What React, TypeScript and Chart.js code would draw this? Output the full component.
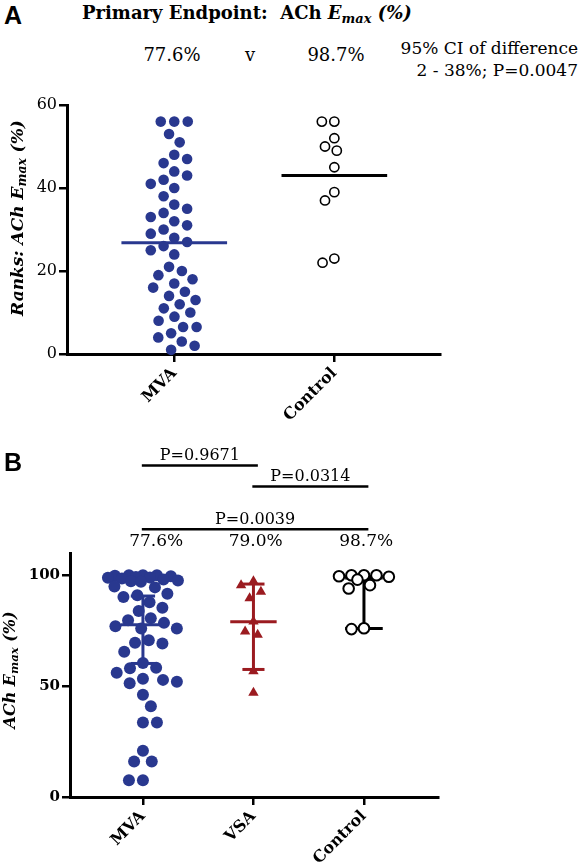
import React, { useEffect, useRef } from 'react';
import { Chart, registerables } from 'chart.js';

Chart.register(...registerables);

// ---------- Panel A data (ranks) ----------
const groupsA = ['MVA', 'Control'];
const mvaRanks = [56, 56, 56, 53, 51, 48, 47, 46, 44, 43, 42, 41, 40, 38, 36, 35, 34, 33, 32, 31, 30, 29, 28, 27, 26, 25, 24, 21, 20, 19, 18, 17, 16, 15, 14, 13, 12, 11, 10, 9, 8, 6.5, 6.5, 5, 4, 3, 2, 1];
const controlRanks = [56, 56, 52, 50, 49, 45, 39, 37, 23, 22];
const medianRanks = [26.8, 43];
const yTicksA = [0, 20, 40, 60];
const headerA = ['77.6%', 'v', '98.7%'];

// ---------- Panel B data (ACh Emax %) ----------
const groupsB = ['MVA', 'VSA', 'Control'];
const mvaEmax = [100, 100, 100, 99.8, 99.5, 99.2, 99, 98.8, 98.5, 98, 97.6, 97.3, 97, 94.9, 94.5, 91.6, 90.9, 90.2, 87.8, 85.3, 83.8, 80.6, 79.7, 78.5, 77, 76, 76, 70.7, 69.5, 69.2, 65.5, 60.4, 58.3, 58, 56, 53.3, 52.8, 52, 51.3, 46.1, 40.9, 33.6, 33.6, 20.9, 16, 16, 7.5, 7.5];
const vsaEmax = [97.3, 95.5, 92.5, 89.6, 79.1, 74.6, 73.1, 56.7, 47];
const controlEmax = [100, 100, 100, 99.5, 99.3, 98, 95.5, 94, 76.1, 75.7];
const medianEmax = [77.6, 79.0, 98.7];
const q1Emax = [60.2, 57.5, 76];
const q3Emax = [90.6, 96, 99.4];
const pctLabelsB = ['77.6%', '79.0%', '98.7%'];
const comparisons: [number, number, string][] = [
  [0, 1, 'P=0.9671'],
  [1, 2, 'P=0.0314'],
  [0, 2, 'P=0.0039'],
];
const yTicksB = [0, 50, 100];

// ---------- styles ----------
const BLUE = '#29388f';
const RED = '#9b1b20';
const BLACK = '#000000';
const SERIF = '"DejaVu Serif", "Liberation Serif", serif';
const SANS = '"Liberation Sans", Arial, sans-serif';

function seg(x1: number, y1: number, x2: number, y2: number) {
  return [{ x: x1, y: y1 }, { x: x2, y: y2 }];
}

function lineDs(data: any[], color: string, width = 3) {
  return {
    type: 'line' as const,
    data,
    borderColor: color,
    borderWidth: width,
    pointRadius: 0,
    fill: false,
    tension: 0,
    order: 2,
    clip: false as any,
  };
}

// continuous beeswarm computed in pixel space via the chart's own scales
function swarm(values: number[], center: number, chart: any, D: number, maxHalf: number) {
  const xs = chart.scales.x;
  const ys = chart.scales.y;
  const ppu = xs.getPixelForValue(1) - xs.getPixelForValue(0);
  const idx = values.map((_, i) => i).sort((a, b) => values[b] - values[a]);
  const placed: { x: number; y: number }[] = [];
  const out: any[] = new Array(values.length);
  let flip = 1;
  idx.forEach((i) => {
    const y = ys.getPixelForValue(values[i]);
    const blocked: [number, number][] = [];
    placed.forEach((p) => {
      const dy = Math.abs(p.y - y);
      if (dy < D) {
        const w = Math.sqrt(D * D - dy * dy);
        blocked.push([p.x - w, p.x + w]);
      }
    });
    const cands = [0];
    blocked.forEach(([a, b]) => cands.push(a, b));
    const ok = cands.filter(
      (c) => Math.abs(c) <= maxHalf + 1e-6 && blocked.every(([a, b]) => c <= a + 1e-6 || c >= b - 1e-6)
    );
    ok.sort((a, b) => Math.abs(a) - Math.abs(b) || (flip > 0 ? b - a : a - b));
    let x = 0;
    if (ok.length) {
      x = ok[0];
    } else {
      let bestD = -1;
      for (let c = -maxHalf; c <= maxHalf + 1e-6; c += 0.5) {
        let m = Infinity;
        placed.forEach((p) => {
          m = Math.min(m, Math.hypot(p.x - c, p.y - y));
        });
        if (m > bestD + 1e-6) {
          bestD = m;
          x = c;
        }
      }
    }
    placed.push({ x, y });
    out[i] = { x: center + x / ppu, y: values[i] };
    flip = -flip;
  });
  return out;
}

function axis(min: number, max: number, ticks: number[], labels: (v: number) => string, font: any, fit: (s: any) => void, horizontal: boolean) {
  return {
    type: 'linear' as const,
    min,
    max,
    afterBuildTicks: (s: any) => {
      s.ticks = ticks.map((v) => ({ value: v }));
    },
    afterFit: fit,
    ticks: {
      callback: (v: any) => labels(Number(v)),
      font,
      color: BLACK,
      padding: 2,
      autoSkip: false,
      ...(horizontal ? { minRotation: 45, maxRotation: 45 } : {}),
    },
    grid: { drawOnChartArea: false, drawTicks: true, tickLength: 8, color: BLACK, lineWidth: 2.5 },
    border: { display: true, color: BLACK, width: 3 },
  };
}

const annotB = {
  id: 'annotB',
  afterDraw(chart: any) {
    const { ctx } = chart;
    const x = chart.scales.x;
    const y = chart.scales.y;
    ctx.save();
    ctx.fillStyle = BLACK;
    ctx.strokeStyle = BLACK;
    ctx.textAlign = 'center';
    ctx.textBaseline = 'middle';
    ctx.font = `17px ${SERIF}`;
    const labelShift = [0.12, 0.02, 0.02];
    pctLabelsB.forEach((t, i) => {
      ctx.fillText(t, x.getPixelForValue(i + 1 + labelShift[i]), y.getPixelForValue(115.3));
    });
    const levels = [149.5, 140, 120.7];
    ctx.font = `16px ${SERIF}`;
    ctx.textBaseline = 'alphabetic';
    ctx.lineWidth = 2.5;
    comparisons.forEach(([a, b, t], k) => {
      const x1 = x.getPixelForValue(a + 1 - 0.01);
      const x2 = x.getPixelForValue(b + 1 + 0.04);
      const yy = y.getPixelForValue(levels[k]);
      ctx.beginPath();
      ctx.moveTo(x1, yy);
      ctx.lineTo(x2, yy);
      ctx.stroke();
      ctx.fillText(t, (x1 + x2) / 2, yy - 5.5);
    });
    ctx.restore();
  },
};

export default function App() {
  const refA = useRef<HTMLCanvasElement>(null);
  const refB = useRef<HTMLCanvasElement>(null);

  useEffect(() => {
    if (!refA.current || !refB.current) return;

    const chartA: any = new Chart(refA.current, {
      type: 'scatter',
      data: {
        datasets: [
          lineDs(seg(1 - 0.33, medianRanks[0], 1 + 0.33, medianRanks[0]), BLUE),
          lineDs(seg(2 - 0.33, medianRanks[1], 2 + 0.33, medianRanks[1]), BLACK),
          { data: mvaRanks.map((v) => ({ x: 1, y: v })), backgroundColor: BLUE, borderWidth: 0, pointRadius: 5.3, order: 1, clip: false as any },
          { data: controlRanks.map((v) => ({ x: 2, y: v })), backgroundColor: '#ffffff', borderColor: BLACK, borderWidth: 1.6, pointRadius: 4.6, order: 1, clip: false as any },
        ] as any,
      },
      options: {
        animation: false,
        responsive: false,
        events: [],
        layout: { padding: { left: 0, top: 15, right: 20, bottom: 0 } },
        plugins: { legend: { display: false }, tooltip: { enabled: false } },
        scales: {
          x: axis(0.33, 2.66, [1, 2], (v) => groupsA[v - 1] ?? '', { family: SERIF, size: 16, weight: 'bold' }, (s) => { s.height = 76; }, true) as any,
          y: axis(0, 60, yTicksA, (v) => String(v), { family: SERIF, size: 16 }, (s) => { s.width = 67; }, false) as any,
        },
      },
    });
    chartA.data.datasets[2].data = swarm(mvaRanks, 1, chartA, 13.5, 30);
    chartA.data.datasets[3].data = swarm(controlRanks, 2, chartA, 12.5, 16);
    chartA.update();

    const colorsB = [BLUE, RED, BLACK];
    const capHalf = [0.11, 0.1, 0.17];
    const medHalf = [0.2, 0.21, 0.17];
    const lineSets: any[] = [];
    medianEmax.forEach((m, i) => {
      const g = i + 1;
      lineSets.push(lineDs(seg(g - medHalf[i], m, g + medHalf[i], m), colorsB[i]));
      lineSets.push(lineDs(seg(g, q1Emax[i], g, q3Emax[i]), colorsB[i]));
      lineSets.push(lineDs(seg(g - capHalf[i], q1Emax[i], g + capHalf[i], q1Emax[i]), colorsB[i]));
      lineSets.push(lineDs(seg(g - capHalf[i], q3Emax[i], g + capHalf[i], q3Emax[i]), colorsB[i]));
    });

    const chartB: any = new Chart(refB.current, {
      type: 'scatter',
      data: {
        datasets: [
          ...lineSets,
          { data: mvaEmax.map((v) => ({ x: 1, y: v })), backgroundColor: BLUE, borderWidth: 0, pointRadius: 6, order: 1, clip: false as any },
          { data: vsaEmax.map((v) => ({ x: 2, y: v })), backgroundColor: RED, borderWidth: 0, pointRadius: 6, pointStyle: 'triangle', order: 1, clip: false as any },
          { data: controlEmax.map((v) => ({ x: 3, y: v })), backgroundColor: '#ffffff', borderColor: BLACK, borderWidth: 2, pointRadius: 5.3, order: 1, clip: false as any },
        ] as any,
      },
      options: {
        animation: false,
        responsive: false,
        events: [],
        layout: { padding: { left: 0, top: 133, right: 22, bottom: 0 } },
        plugins: { legend: { display: false }, tooltip: { enabled: false } },
        scales: {
          x: axis(0.34, 3.67, [1, 2, 3], (v) => groupsB[v - 1] ?? '', { family: SERIF, size: 16, weight: 'bold' }, (s) => { s.height = 69; }, true) as any,
          y: axis(0, 110, yTicksB, (v) => String(v), { family: SERIF, size: 15, weight: 'bold' }, (s) => { s.width = 70; }, false) as any,
        },
      },
      plugins: [annotB],
    });
    const n = lineSets.length;
    chartB.data.datasets[n].data = swarm(mvaEmax, 1, chartB, 14, 35);
    chartB.data.datasets[n + 1].data = swarm(vsaEmax, 2, chartB, 13, 16);
    chartB.data.datasets[n + 2].data = swarm(controlEmax, 3, chartB, 12.5, 26);
    chartB.update();

    return () => {
      chartA.destroy();
      chartB.destroy();
    };
  }, []);

  const abs = (s: React.CSSProperties): React.CSSProperties => ({ position: 'absolute', whiteSpace: 'nowrap', lineHeight: 1, ...s });
  const subStyle: React.CSSProperties = { fontSize: '0.72em', verticalAlign: '-0.3em', lineHeight: 0 };

  return (
    <div style={{ position: 'absolute', left: 0, top: 0, width: 588, height: 866, background: '#ffffff', overflow: 'hidden', color: BLACK, fontFamily: SERIF }}>
      <canvas ref={refA} width={460} height={340} style={{ position: 'absolute', left: 0, top: 90 }} />
      <canvas ref={refB} width={460} height={446} style={{ position: 'absolute', left: 0, top: 420 }} />

      <div style={abs({ left: 4, top: 3, fontFamily: SANS, fontWeight: 'bold', fontSize: 25 })}>A</div>
      <div style={abs({ left: 82, top: 4, fontWeight: 'bold', fontSize: 18 })}>
        Primary Endpoint:&nbsp; ACh <i>E<sub style={subStyle}>max</sub> (%)</i>
      </div>
      {headerA.map((t, i) => (
        <div key={t} style={abs({ left: [172, 250, 336][i], top: 46, fontSize: 18, transform: 'translateX(-50%)' })}>{t}</div>
      ))}
      <div style={{ position: 'absolute', right: 10, top: 37, fontSize: 17, lineHeight: '22px', textAlign: 'right', whiteSpace: 'nowrap' }}>
        95% CI of difference
        <br />
        2 - 38%; P=0.0047
      </div>
      <div style={abs({ left: 17, top: 218, fontWeight: 'bold', fontStyle: 'italic', fontSize: 17, transform: 'translate(-50%,-50%) rotate(-90deg)' })}>
        Ranks: ACh E<sub style={subStyle}>max</sub> (%)
      </div>

      <div style={abs({ left: 4, top: 450, fontFamily: SANS, fontWeight: 'bold', fontSize: 25 })}>B</div>
      <div style={abs({ left: 10, top: 670, fontWeight: 'bold', fontStyle: 'italic', fontSize: 16, transform: 'translate(-50%,-50%) rotate(-90deg)' })}>
        ACh E<sub style={subStyle}>max</sub> (%)
      </div>
    </div>
  );
}
